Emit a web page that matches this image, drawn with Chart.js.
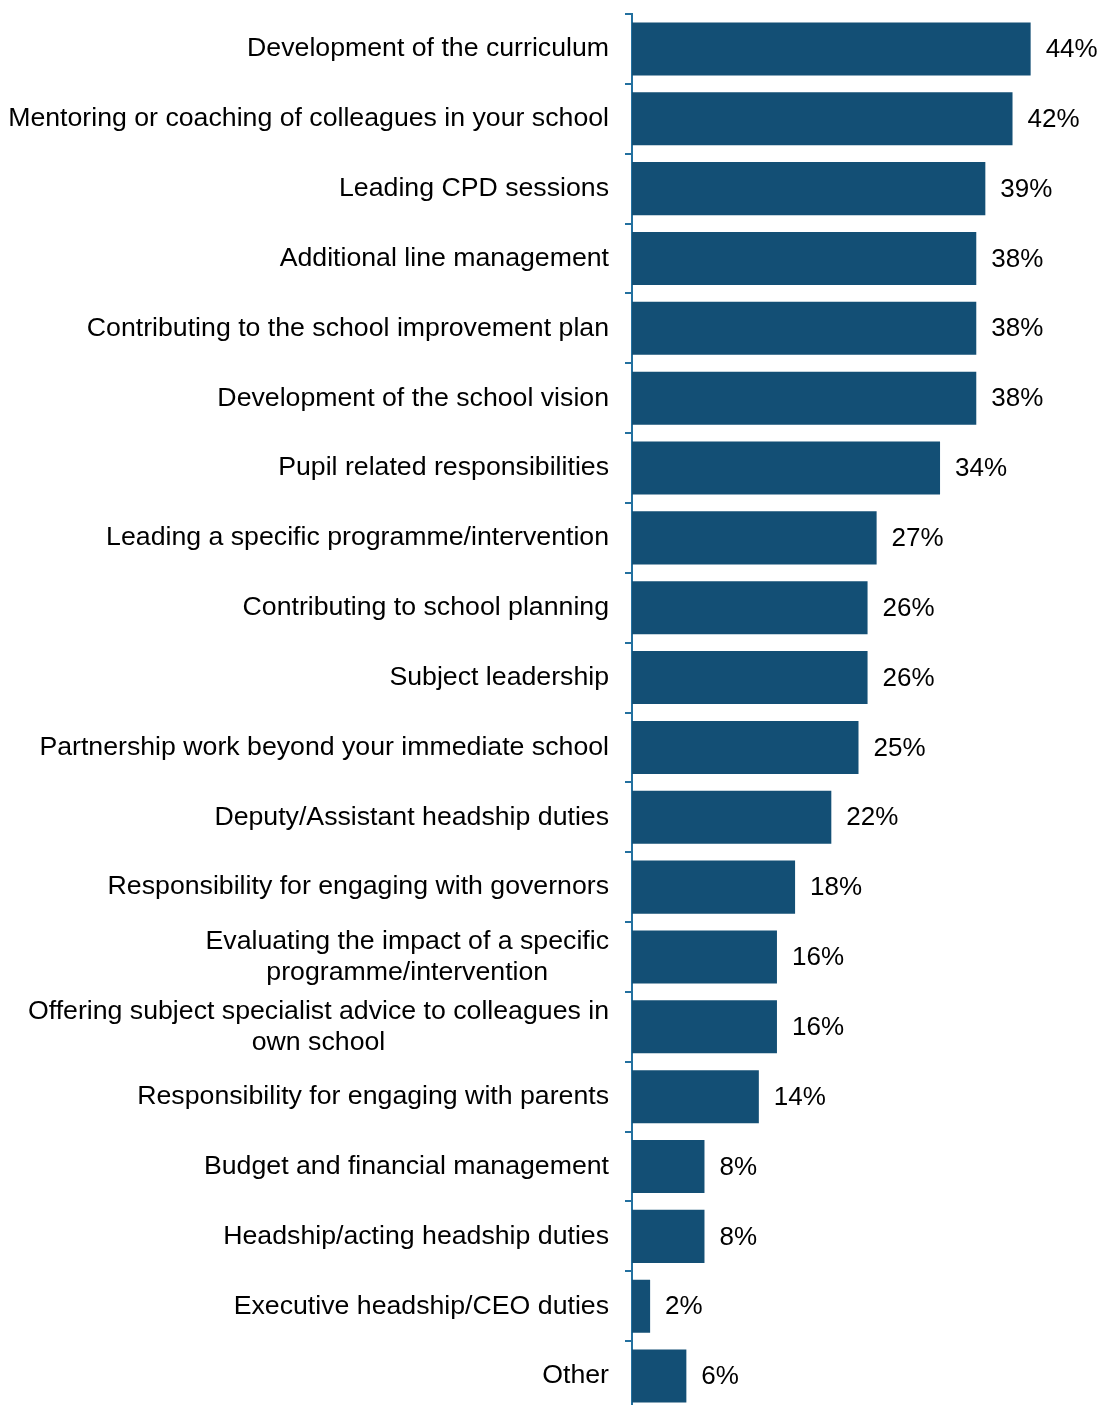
<!DOCTYPE html>
<html>
<head>
<meta charset="utf-8">
<title>Additional responsibilities</title>
<script src="https://cdn.jsdelivr.net/npm/chart.js@4/dist/chart.umd.min.js"></script>
<style>
  html, body { margin: 0; padding: 0; background: #fff; overflow: hidden; }
  canvas { display: block; }
</style>
</head>
<body>
<canvas id="rolesChart" width="1105" height="1412"></canvas>
<script>
// Categorias (as de duas linhas vão como array)
const categories = [
    'Development of the curriculum',
    'Mentoring or coaching of colleagues in your school',
    'Leading CPD sessions',
    'Additional line management',
    'Contributing to the school improvement plan',
    'Development of the school vision',
    'Pupil related responsibilities',
    'Leading a specific programme/intervention',
    'Contributing to school planning',
    'Subject leadership',
    'Partnership work beyond your immediate school',
    'Deputy/Assistant headship duties',
    'Responsibility for engaging with governors',
    ['Evaluating the impact of a specific', 'programme/intervention'],
    ['Offering subject specialist advice to colleagues in', 'own school'],
    'Responsibility for engaging with parents',
    'Budget and financial management',
    'Headship/acting headship duties',
    'Executive headship/CEO duties',
    'Other'
];

// Percentuais
const values = [44, 42, 39, 38, 38, 38, 34, 27, 26, 26, 25, 22, 18, 16, 16, 14, 8, 8, 2, 6];

const LABEL_FONT = '26.7px "Liberation Sans", Arial, sans-serif';
const VALUE_FONT = '26px "Liberation Sans", Arial, sans-serif';
const BAR_COLOR = '#134f75';
const AXIS_COLOR = '#23709f';

// Desenha os rótulos das categorias (centralizados quando quebram linha)
const categoryLabels = {
    id: 'categoryLabels',
    afterDraw(chart) {
        const ctx = chart.ctx;
        const y = chart.scales.y;
        const right = chart.chartArea.left - 23;
        const lineH = 31;
        ctx.save();
        ctx.font = LABEL_FONT;
        ctx.fillStyle = '#000';
        ctx.textBaseline = 'middle';
        ctx.textAlign = 'center';
        categories.forEach((label, i) => {
            const cy = y.getPixelForValue(i);
            const lines = Array.isArray(label) ? label : [label];
            const maxW = Math.max(...lines.map(l => ctx.measureText(l).width));
            const cx = right - maxW / 2;
            lines.forEach((l, j) => {
                ctx.fillText(l, cx, cy + (j - (lines.length - 1) / 2) * lineH);
            });
        });
        ctx.restore();
    }
};

// Valores no fim de cada barra
const valueLabels = {
    id: 'valueLabels',
    afterDatasetsDraw(chart) {
        const ctx = chart.ctx;
        const meta = chart.getDatasetMeta(0);
        ctx.save();
        ctx.font = VALUE_FONT;
        ctx.fillStyle = '#000';
        ctx.textAlign = 'left';
        ctx.textBaseline = 'middle';
        meta.data.forEach((bar, i) => {
            ctx.fillText(values[i] + '%', bar.x + 15, bar.y + 1);
        });
        ctx.restore();
    }
};

new Chart(document.getElementById('rolesChart').getContext('2d'), {
    type: 'bar',
    data: {
        labels: categories,
        datasets: [{
            data: values,
            backgroundColor: BAR_COLOR,
            borderWidth: 0,
            barPercentage: 0.76,
            categoryPercentage: 1
        }]
    },
    options: {
        indexAxis: 'y',
        responsive: false,
        animation: false,
        layout: { padding: { top: 14, right: 20, bottom: 1, left: 0 } },
        plugins: {
            legend: { display: false },
            tooltip: { enabled: false }
        },
        scales: {
            x: {
                display: false,
                min: 0,
                max: 50
            },
            y: {
                ticks: { display: false },
                grid: {
                    drawOnChartArea: false,
                    drawTicks: true,
                    tickLength: 7,
                    color: AXIS_COLOR,
                    lineWidth: 2
                },
                border: { color: AXIS_COLOR, width: 2 },
                afterFit(scale) { scale.width = 632; }
            }
        }
    },
    plugins: [categoryLabels, valueLabels]
});
</script>
</body>
</html>
